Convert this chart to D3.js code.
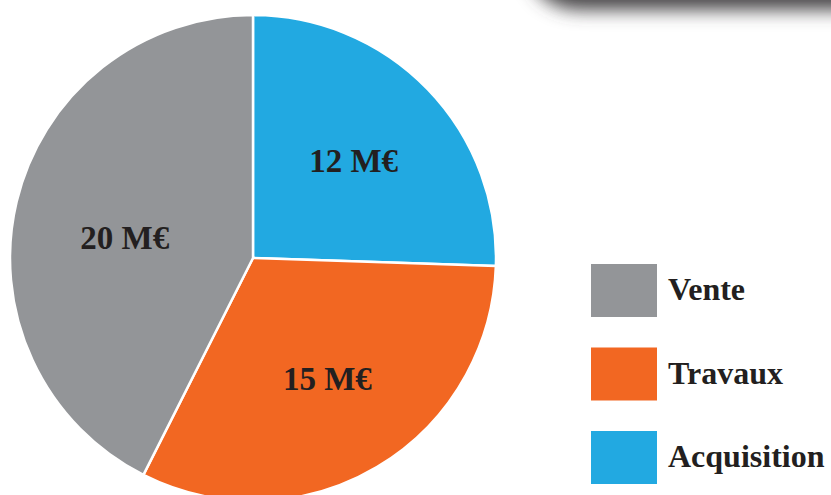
<!DOCTYPE html>
<html><head><meta charset="utf-8">
<script src="https://cdn.jsdelivr.net/npm/d3@7"></script>
<style>html,body{margin:0;padding:0;background:#fff;overflow:hidden}</style>
</head><body>
<script>
const categories = ["Acquisition", "Travaux", "Vente"];
const values = [12, 15, 20];
const labels = ["12 M€", "15 M€", "20 M€"];
const legendOrder = ["Vente", "Travaux", "Acquisition"];
const colors = {Acquisition: "#22a9e1", Travaux: "#f26722", Vente: "#939598"};

const W = 831, H = 495;
const svg = d3.select("body").append("svg").attr("width", W).attr("height", H);

// shadow at top-right
const defs = svg.append("defs");
const f = defs.append("filter").attr("id", "blur").attr("x", "-20%").attr("y", "-100%").attr("width", "140%").attr("height", "300%");
f.append("feGaussianBlur").attr("stdDeviation", 9);
svg.append("rect").attr("x", 530).attr("y", -70).attr("width", 420).attr("height", 80)
  .attr("rx", 50).attr("fill", "#4a4748").attr("filter", "url(#blur)");

const cx = 253, cy = 258, r = 243;
const g = svg.append("g").attr("transform", `translate(${cx},${cy})`);
const data = categories.map((c, i) => ({cat: c, value: values[i], label: labels[i]}));
const pie = d3.pie().value(d => d.value).sort(null);
const arc = d3.arc().innerRadius(0).outerRadius(r);
const labelArc = d3.arc().innerRadius(140).outerRadius(140);
const arcs = pie(data);

g.selectAll("path").data(arcs).join("path")
  .attr("d", arc).attr("fill", d => colors[d.data.cat])
  .attr("stroke", "#fff").attr("stroke-width", 2.5).attr("stroke-linejoin", "round");

g.selectAll("text").data(arcs).join("text")
  .attr("transform", d => {
    const [x, y] = labelArc.centroid(d);
    const adj = d.data.cat === "Vente" ? [8, 12] : (d.data.cat === "Travaux" ? [3, 0] : [0, 0]);
    return `translate(${x + adj[0]},${y + adj[1]})`;
  })
  .attr("text-anchor", "middle").attr("dy", "0.35em")
  .attr("font-family", "Liberation Serif, serif").attr("font-weight", "bold")
  .attr("font-size", 33).attr("fill", "#231f20")
  .text(d => d.data.label);

const leg = svg.append("g");
const ly = d3.scalePoint().domain(legendOrder).range([264, 431]);
legendOrder.forEach(c => {
  leg.append("rect").attr("x", 591).attr("y", ly(c)).attr("width", 66).attr("height", 53).attr("fill", colors[c]);
  leg.append("text").attr("x", 668).attr("y", ly(c) + 36)
    .attr("font-family", "Liberation Serif, serif").attr("font-weight", "bold")
    .attr("font-size", 32).attr("fill", "#231f20").text(c);
});
</script>
</body></html>
